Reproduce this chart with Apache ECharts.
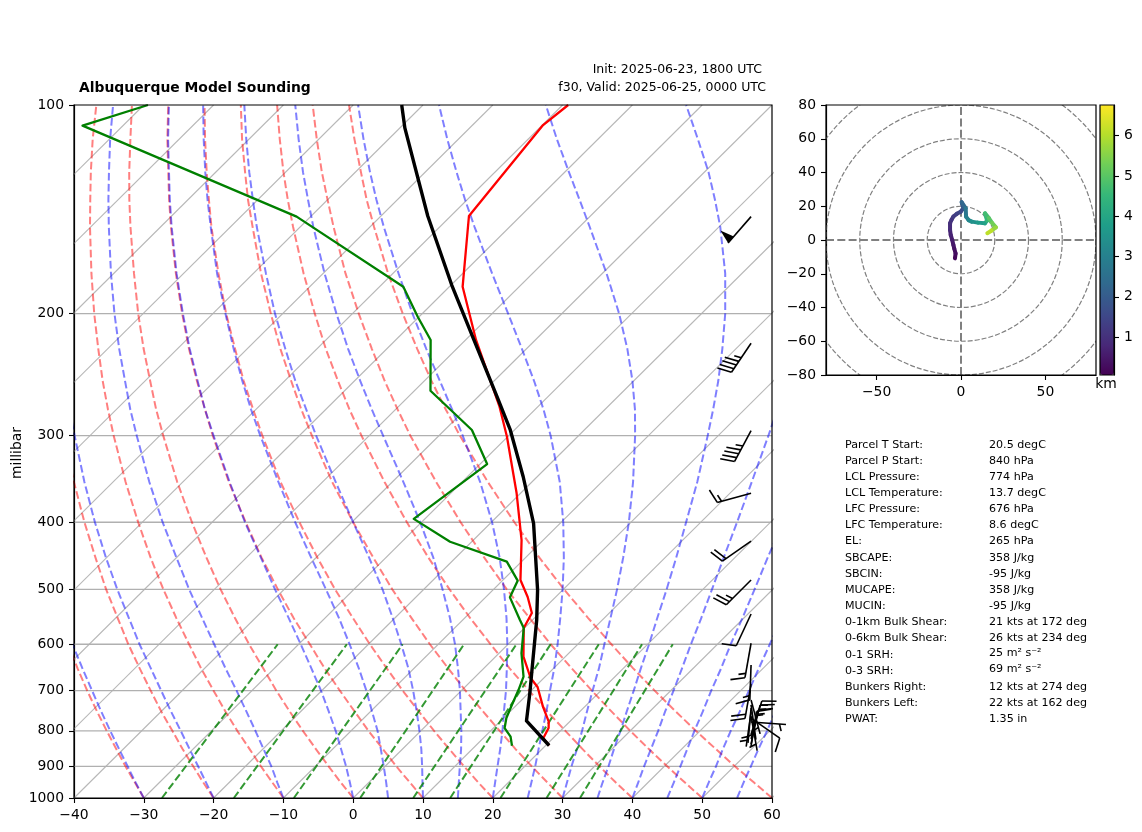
<!DOCTYPE html>
<html>
<head>
<meta charset="utf-8">
<style>
  html, body { margin: 0; padding: 0; background: #fff; }
  #chart { width: 1142px; height: 832px; }
</style>
</head>
<body>
<div id="chart"></div>
<script src="https://cdn.jsdelivr.net/npm/echarts@6/dist/echarts.min.js"></script>
<script>
// sounding (hPa, degC)
const tempP = [100, 106.9, 144.6, 182.9, 218.3, 272.5, 301.1, 363, 424.4, 484.6, 512.9, 540.8, 568.4, 625.3, 671.2, 691.6, 738.2, 776, 792.6, 819.5, 840];
const tempC = [-69.2, -69.9, -67.4, -58.1, -48.5, -35.5, -30.1, -20.6, -13.1, -7.5, -4.0, -1.1, -0.1, 4.0, 8.1, 10.4, 14.0, 17.0, 17.9, 18.6, 20.5];
const dewP = [100, 107.1, 144.9, 182.9, 202.1, 218.3, 258.4, 294.4, 329.7, 395.6, 426.8, 456, 485.7, 513.4, 553.5, 568.4, 617.9, 668.3, 698.6, 734, 766.6, 792.6, 815.7, 840.5];
const dewC = [-129.4, -135.8, -92.0, -66.6, -60.2, -55.0, -47.7, -36.1, -29.0, -31.6, -23.1, -12.1, -7.8, -6.5, -1.8, -0.1, 3.2, 6.9, 8.1, 9.3, 10.4, 11.6, 13.7, 15.2];
const parcelP = [100, 107.9, 144.6, 181.9, 218.3, 263.6, 294.4, 343.9, 401.4, 501, 553.5, 625.3, 706.3, 774, 840];
const parcelC = [-93.05, -89.3, -73.3, -59.9, -48.8, -37.3, -30.6, -22.0, -13.8, -3.6, 0.6, 5.4, 10.2, 13.7, 20.5];

// wind barbs: pressure of the tip, speed (kt), direction (deg)
const barbP = [144.9, 220.7, 295, 363.4, 425.8, 484.6, 542.6, 598, 642.6, 684.9, 722.2, 734, 741.6, 751.6, 761.7, 766.7, 777, 809.3, 821.7, 836.4, 841.4];
const barbSpeed = [50, 45, 45, 15, 20, 25, 10, 15, 15, 20, 3, 5, 5, 5, 5, 10, 5, 15, 15, 15, 15];
const barbDir = [221, 214, 208, 255, 235, 225, 205, 190, 182, 190, 165, 172, 185, 188, 170, 125, 94, 18, 15, 12, 9];

// background curves, tabulated at these pressures
const levels = [1000, 950, 900, 850, 800, 750, 700, 650, 600, 550, 500, 450, 400, 350, 300, 275, 250, 225, 200, 175, 150, 137, 125, 112, 100];
const dryCurves = [
  [-30, -33.5, -37.2, -41, -45, -49.2, -53.6, -58.2, -63, -68.2, -73.7, -79.6, -86, -93, -100.8, -105, -109.5, -114.4, -119.6, -125.4, -131.7, -135.4, -138.9, -143.1, -147.2],
  [-20, -23.7, -27.5, -31.5, -35.6, -40, -44.5, -49.3, -54.4, -59.7, -65.5, -71.6, -78.3, -85.6, -93.7, -98.1, -102.8, -107.8, -113.3, -119.3, -125.9, -129.7, -133.4, -137.7, -142],
  [-10, -13.8, -17.8, -21.9, -26.3, -30.8, -35.5, -40.5, -45.7, -51.3, -57.3, -63.7, -70.6, -78.2, -86.6, -91.2, -96.1, -101.3, -107, -113.2, -120.1, -124, -127.9, -132.4, -136.8],
  [0, -4, -8.1, -12.4, -16.9, -21.6, -26.5, -31.6, -37.1, -42.9, -49.1, -55.7, -62.9, -70.8, -79.5, -84.3, -89.3, -94.8, -100.7, -107.1, -114.3, -118.4, -122.4, -127, -131.7],
  [10, 5.9, 1.6, -2.8, -7.5, -12.3, -17.4, -22.8, -28.4, -34.5, -40.9, -47.8, -55.2, -63.4, -72.4, -77.3, -82.6, -88.3, -94.4, -101.1, -108.5, -112.7, -116.8, -121.7, -126.5],
  [20, 15.7, 11.3, 6.7, 1.9, -3.1, -8.4, -13.9, -19.8, -26, -32.7, -39.8, -47.5, -56, -65.3, -70.4, -75.9, -81.7, -88.1, -95, -102.7, -107, -111.3, -116.3, -121.3],
  [30, 25.6, 21, 16.2, 11.3, 6.1, 0.6, -5.1, -11.2, -17.6, -24.5, -31.8, -39.8, -48.6, -58.2, -63.5, -69.1, -75.2, -81.7, -88.9, -96.8, -101.4, -105.8, -111, -116.1],
  [40, 35.4, 30.7, 25.8, 20.7, 15.3, 9.7, 3.7, -2.5, -9.2, -16.3, -23.9, -32.1, -41.1, -51.1, -56.6, -62.4, -68.7, -75.4, -82.8, -91, -95.7, -100.3, -105.6, -110.9],
  [50, 45.3, 40.4, 35.3, 30, 24.5, 18.7, 12.6, 6.1, -0.7, -8.1, -15.9, -24.4, -33.7, -44.1, -49.7, -55.7, -62.1, -69.1, -76.8, -85.2, -90, -94.8, -100.3, -105.8],
  [60, 55.2, 50.1, 44.9, 39.4, 33.7, 27.7, 21.4, 14.8, 7.7, 0.1, -8, -16.7, -26.3, -37, -42.8, -49, -55.6, -62.8, -70.7, -79.4, -84.4, -89.2, -94.9, -100.6]
];
const moistCurves = [
  [-30, -33.4, -36.9, -40.6, -44.5, -48.6, -52.9, -57.5, -62.4, -67.5, -73, -79, -85.4, -92.4, -100.2, -104.4, -109, -113.8, -119.1, -124.9, -131.2, -134.9, -138.4, -142.6, -146.8],
  [-20, -23.3, -26.8, -30.5, -34.4, -38.6, -43, -47.7, -52.8, -58.1, -63.9, -70.1, -76.8, -84.1, -92.2, -96.7, -101.4, -106.5, -112, -118.1, -124.7, -128.5, -132.3, -136.6, -141],
  [-10, -13.1, -16.3, -19.9, -23.7, -27.8, -32.2, -37, -42.1, -47.6, -53.6, -60, -67.1, -74.8, -83.3, -88, -92.9, -98.3, -104.1, -110.4, -117.4, -121.4, -125.3, -129.9, -134.4],
  [0, -2.7, -5.6, -8.8, -12.2, -16, -20.1, -24.7, -29.7, -35.2, -41.3, -47.9, -55.3, -63.3, -72.3, -77.3, -82.5, -88.2, -94.3, -101, -108.4, -112.6, -116.7, -121.6, -126.4],
  [5, 2.5, -0.2, -3.1, -6.2, -9.8, -13.6, -17.9, -22.7, -28, -34, -40.7, -48.1, -56.3, -65.6, -70.7, -76.1, -81.9, -88.2, -95.2, -102.8, -107.2, -111.5, -116.5, -121.5],
  [10, 7.7, 5.3, 2.7, -0.2, -3.4, -6.9, -10.8, -15.3, -20.3, -25.9, -32.4, -39.8, -48.1, -57.6, -62.8, -68.5, -74.5, -81.1, -88.2, -96.2, -100.7, -105.2, -110.4, -115.6],
  [15, 12.9, 10.7, 8.4, 5.8, 2.9, -0.2, -3.7, -7.6, -12.1, -17.3, -23.2, -30.2, -38.4, -48, -53.4, -59.2, -65.5, -72.3, -79.8, -88.1, -92.8, -97.5, -102.9, -108.3],
  [20, 18.1, 16.1, 14, 11.7, 9.1, 6.4, 3.3, -0.1, -4, -8.5, -13.7, -19.9, -27.4, -36.6, -41.9, -47.8, -54.3, -61.4, -69.2, -78, -83, -87.9, -93.6, -99.3],
  [25, 23.3, 21.5, 19.5, 17.4, 15.2, 12.7, 10.1, 7.1, 3.7, -0.1, -4.5, -9.7, -16, -24, -28.8, -34.3, -40.6, -47.7, -55.8, -65, -70.3, -75.5, -81.6, -87.7],
  [30, 28.4, 26.7, 25, 23.1, 21, 18.8, 16.5, 13.8, 10.9, 7.7, 4, -0.3, -5.5, -11.9, -15.7, -20.2, -25.5, -31.8, -39.4, -48.5, -53.9, -59.4, -65.9, -72.4],
  [35, 33.5, 32, 30.3, 28.6, 26.7, 24.7, 22.5, 20.2, 17.6, 14.8, 11.6, 7.9, 3.7, -1.5, -4.5, -7.9, -11.9, -16.6, -22.4, -29.8, -34.5, -39.4, -45.7, -52.3],
  [40, 38.6, 37.1, 35.6, 34, 32.2, 30.4, 28.4, 26.2, 23.9, 21.3, 18.4, 15.2, 11.5, 7.2, 4.7, 2, -1.2, -4.8, -9, -14.2, -17.4, -20.9, -25.3, -30.2],
  [45, 43.7, 42.3, 40.8, 39.2, 37.6, 35.8, 34, 31.9, 29.8, 27.4, 24.7, 21.8, 18.5, 14.7, 12.5, 10.1, 7.5, 4.5, 1, -3, -5.4, -7.9, -11, -14.3],
  [50, 48.7, 47.4, 45.9, 44.4, 42.9, 41.2, 39.4, 37.5, 35.4, 33.1, 30.6, 27.9, 24.8, 21.3, 19.3, 17.1, 14.7, 12.1, 9, 5.6, 3.5, 1.5, -1, -3.6],
  [55, 53.7, 52.4, 51, 49.6, 48, 46.4, 44.7, 42.8, 40.8, 38.6, 36.2, 33.6, 30.6, 27.3, 25.4, 23.4, 21.1, 18.6, 15.9, 12.7, 10.8, 8.9, 6.7, 4.4]
];
const mixBottom = [-27.4, -17.1, -8.5, 1.0, 8.6, 13.9, 21.1, 27.7, 32.5];
const mixTop = [-33.0, -23.1, -15.1, -6.3, 1.2, 6.1, 13.0, 19.2, 23.6];
const isoTemps = [-130, -120, -110, -100, -90, -80, -70, -60, -50, -40, -30, -20, -10, 0, 10, 20, 30, 40, 50, 60];
const isobars = [200, 300, 400, 500, 600, 700, 800, 900];
const pressureTicks = [100, 200, 300, 400, 500, 600, 700, 800, 900, 1000];

// hodograph
const hodoU = [-3.6, -3.2, -4, -4.5, -5.2, -6.1, -6.5, -6.5, -5.6, -4.5, -2.5, -0.2, 1.4, 0.4, 2.8, 3, 4.5, 6.3, 10, 14.2, 15.5, 14.2, 16.5, 18.5, 20.7, 18, 15.6];
const hodoV = [-10.9, -8, -5, -3, 0, 3, 6, 9.9, 12, 13.9, 15.5, 16.8, 18.8, 22.4, 18.8, 13.9, 11.8, 10.9, 10.3, 9.9, 11.5, 15.8, 13, 10, 7.5, 5.5, 4];
const hodoKm = [0.1, 0.2, 0.3, 0.4, 0.5, 0.6, 0.7, 0.9, 1, 1.1, 1.25, 1.4, 1.6, 1.9, 2.3, 2.7, 2.95, 3.2, 3.45, 3.7, 3.9, 4.5, 4.7, 5, 5.3, 5.7, 6.1];
const hodoRings = [20, 40, 60, 80, 100];
const kmTicks = [1, 2, 3, 4, 5, 6];
const viridis = ['#440154', '#482878', '#3e4989', '#31688e', '#26828e', '#1f9e89', '#35b779', '#6ece58', '#b5de2b', '#fde725'];

const statNames = ['Parcel T Start:', 'Parcel P Start:', 'LCL Pressure:', 'LCL Temperature:', 'LFC Pressure:', 'LFC Temperature:', 'EL:', 'SBCAPE:', 'SBCIN:', 'MUCAPE:', 'MUCIN:', '0-1km Bulk Shear:', '0-6km Bulk Shear:', '0-1 SRH:', '0-3 SRH:', 'Bunkers Right:', 'Bunkers Left:', 'PWAT:'];
const statValues = ['20.5 degC', '840 hPa', '774 hPa', '13.7 degC', '676 hPa', '8.6 degC', '265 hPa', '358 J/kg', '-95 J/kg', '358 J/kg', '-95 J/kg', '21 kts at 172 deg', '26 kts at 234 deg', '25 m² s⁻²', '69 m² s⁻²', '12 kts at 274 deg', '22 kts at 162 deg', '1.35 in'];

const FONT = '"DejaVu Sans"';
const minus = (v) => String(v).replace('-', '\u2212');

// the skewed x axis: a temperature shifts right as pressure falls
const skew = (t, p) => t + 100 * Math.log10(1000 / p);
const profile = (ps, ts) => ps.map((p, i) => [skew(ts[i], p), p]);

function thermoLine(data, color, width, dash) {
  return {
    type: 'line',
    xAxisIndex: 0,
    yAxisIndex: 0,
    data: data,
    symbol: 'none',
    silent: true,
    animation: false,
    clip: true,
    lineStyle: { color: color, width: width, type: dash ? [7.7, 3.3] : 'solid', cap: 'butt', join: 'round' },
    z: 3
  };
}

function renderBarb(params, api) {
  const speed = api.value(2);
  const dir = api.value(3) * Math.PI / 180;
  const tip = api.coord([api.value(0), api.value(1)]);
  const L = 35, H = 0.4 * L, W = 0.25 * L, S = 0.125 * L;
  const ex = Math.sin(dir), ey = -Math.cos(dir);
  const at = (along, side) => [tip[0] + ex * along - ey * side, tip[1] + ey * along + ex * side];
  const stroke = { stroke: '#000', lineWidth: 1.6, fill: null };
  const children = [{ type: 'polyline', shape: { points: [at(0, 0), at(L, 0)] }, style: stroke }];

  let rest = Math.round(speed / 5) * 5;
  let off = L;
  while (rest >= 50) {
    children.push({ type: 'polygon', shape: { points: [at(off, 0), at(off - W / 2, H), at(off - W, 0)] }, style: { fill: '#000' } });
    off -= W + S;
    rest -= 50;
  }
  while (rest >= 10) {
    children.push({ type: 'polyline', shape: { points: [at(off, 0), at(off + W / 2, H)] }, style: stroke });
    off -= S;
    rest -= 10;
  }
  if (rest >= 5) {
    if (off === L) off -= 1.5 * S;
    children.push({ type: 'polyline', shape: { points: [at(off, 0), at(off + W / 4, H / 2)] }, style: stroke });
  }
  return { type: 'group', children: children };
}

const series = [];
isoTemps.forEach((t) => series.push(thermoLine([[skew(t, 1000), 1000], [skew(t, 100), 100]], '#b8b8b8', 1.1)));
isobars.forEach((p) => series.push(thermoLine([[-40, p], [60, p]], '#b0b0b0', 1.3)));
dryCurves.forEach((c) => series.push(thermoLine(profile(levels, c), 'rgba(255,0,0,0.5)', 2, true)));
moistCurves.forEach((c) => series.push(thermoLine(profile(levels, c), 'rgba(0,0,255,0.5)', 2, true)));
mixBottom.forEach((t, i) => series.push(thermoLine([[skew(t, 1000), 1000], [skew(mixTop[i], 600), 600]], 'rgba(0,128,0,0.8)', 2, true)));

[[tempP, tempC, '#ff0000', 2.3], [dewP, dewC, '#008000', 2.3], [parcelP, parcelC, '#000000', 3.4]].forEach((s) => {
  const line = thermoLine(profile(s[0], s[1]), s[2], s[3]);
  line.z = 4;
  series.push(line);
});

series.push({
  type: 'custom',
  xAxisIndex: 0,
  yAxisIndex: 0,
  silent: true,
  animation: false,
  clip: false,
  z: 5,
  encode: { x: 0, y: 1 },
  data: barbP.map((p, i) => [57, p, barbSpeed[i], barbDir[i]]),
  renderItem: renderBarb
});

// hodograph rings and zero lines
series.push({
  type: 'custom',
  xAxisIndex: 1,
  yAxisIndex: 1,
  silent: true,
  animation: false,
  clip: true,
  encode: { x: 0, y: 1 },
  data: hodoRings.map((r) => [0, 0, r]),
  renderItem: (params, api) => {
    const c = api.coord([0, 0]);
    return { type: 'circle', shape: { cx: c[0], cy: c[1], r: api.size([api.value(2), 0])[0] }, style: { fill: null, stroke: '#808080', lineWidth: 1.2, lineDash: [5, 2] } };
  }
});
[[[-80, 0], [80, 0]], [[0, -80], [0, 80]]].forEach((d) => {
  series.push({
    type: 'line',
    xAxisIndex: 1,
    yAxisIndex: 1,
    data: d,
    symbol: 'none',
    silent: true,
    animation: false,
    lineStyle: { color: '#808080', width: 2, type: [8, 3.3] }
  });
});

const hodoIndex = series.length;
series.push({
  type: 'custom',
  xAxisIndex: 1,
  yAxisIndex: 1,
  silent: true,
  animation: false,
  z: 4,
  encode: { x: 0, y: 1 },
  data: hodoU.map((u, i) => [u, hodoV[i], hodoKm[i]]),
  renderItem: (params, api) => {
    const i = params.dataIndex;
    if (i === 0) return null;
    const a = api.coord([hodoU[i - 1], hodoV[i - 1]]);
    const b = api.coord([hodoU[i], hodoV[i]]);
    return {
      type: 'line',
      shape: { x1: a[0], y1: a[1], x2: b[0], y2: b[1] },
      style: { stroke: api.visual('color'), lineWidth: 4, lineCap: 'round' }
    };
  }
});

function label(text, x, y, size, opts) {
  return {
    type: 'text',
    x: x,
    y: y,
    silent: true,
    z: 20,
    rotation: (opts && opts.rotation) || 0,
    style: {
      text: text,
      fill: '#000',
      font: ((opts && opts.bold) ? 'bold ' : '') + size + 'px ' + FONT,
      textAlign: (opts && opts.align) || 'left',
      textVerticalAlign: 'middle'
    }
  };
}

const texts = [
  label('Albuquerque Model Sounding', 79, 88, 13.9, { bold: true }),
  label('Init: 2025-06-23, 1800 UTC', 762, 70, 12.5, { align: 'right' }),
  label('f30, Valid: 2025-06-25, 0000 UTC', 766, 88, 12.5, { align: 'right' }),
  label('millibar', 17, 453, 13.9, { align: 'center', rotation: Math.PI / 2 }),
  label('km', 1106, 384, 13.9, { align: 'center' })
];
statNames.forEach((name, i) => {
  const y = 444.7 + 16.15 * i;
  texts.push(label(name, 845, y, 11.1));
  texts.push(label(statValues[i], 989, (i === 13 || i === 14) ? y - 2 : y, 11.1));
});

const axisBase = {
  axisLine: { show: true, onZero: false, lineStyle: { color: '#000', width: 1.2 } },
  axisTick: { show: true, length: 5, lineStyle: { color: '#000', width: 1.1 } },
  axisLabel: { color: '#000', fontFamily: FONT, fontSize: 13.9, margin: 10, formatter: minus },
  splitLine: { show: false }
};
const yLabel = Object.assign({}, axisBase.axisLabel, { margin: 10, padding: [2, 0, 0, 0] });

const option = {
  animation: false,
  backgroundColor: '#fff',
  textStyle: { fontFamily: FONT },
  grid: [
    { left: 74, top: 105, width: 698, height: 693, show: true, borderColor: '#000', borderWidth: 1.2, backgroundColor: 'transparent', z: 6 },
    { left: 826, top: 105, width: 270, height: 270, show: true, borderColor: '#000', borderWidth: 1.2, backgroundColor: 'transparent', z: 6 },
    { left: 1100, top: 105, width: 14, height: 270, show: true, borderColor: '#000', borderWidth: 1.2, backgroundColor: 'transparent', z: 6 }
  ],
  xAxis: [
    Object.assign({}, axisBase, { type: 'value', gridIndex: 0, min: -40, max: 60, interval: 10 }),
    Object.assign({}, axisBase, { type: 'value', gridIndex: 1, min: -80, max: 80, axisLabel: Object.assign({}, axisBase.axisLabel, { customValues: [-50, 0, 50] }), axisTick: Object.assign({}, axisBase.axisTick, { customValues: [-50, 0, 50] }) }),
    { type: 'value', gridIndex: 2, min: 0, max: 1, show: false }
  ],
  yAxis: [
    Object.assign({}, axisBase, {
      type: 'log',
      logBase: 10,
      gridIndex: 0,
      min: 100,
      max: 1000,
      inverse: true,
      axisLabel: Object.assign({}, yLabel, { customValues: pressureTicks, formatter: (v) => String(Math.round(v)), showMinLabel: true, showMaxLabel: true }),
      axisTick: Object.assign({}, axisBase.axisTick, { customValues: pressureTicks }),
      minorTick: { show: false }
    }),
    Object.assign({}, axisBase, { type: 'value', gridIndex: 1, min: -80, max: 80, interval: 20, axisLabel: yLabel }),
    Object.assign({}, axisBase, {
      type: 'value',
      gridIndex: 2,
      position: 'right',
      min: 0.06,
      max: 6.76,
      axisLabel: Object.assign({}, yLabel, { customValues: kmTicks }),
      axisTick: Object.assign({}, axisBase.axisTick, { customValues: kmTicks })
    })
  ],
  visualMap: {
    type: 'continuous',
    seriesIndex: hodoIndex,
    dimension: 2,
    min: 0.06,
    max: 6.76,
    left: 1100,
    top: 105,
    itemWidth: 14,
    itemHeight: 270,
    padding: 0,
    text: null,
    calculable: false,
    hoverLink: false,
    inRange: { color: viridis },
    z: 1
  },
  graphic: { elements: texts },
  series: series
};

const chart = echarts.init(document.getElementById('chart'), null, { renderer: 'canvas' });
chart.setOption(option);
</script>
</body>
</html>
